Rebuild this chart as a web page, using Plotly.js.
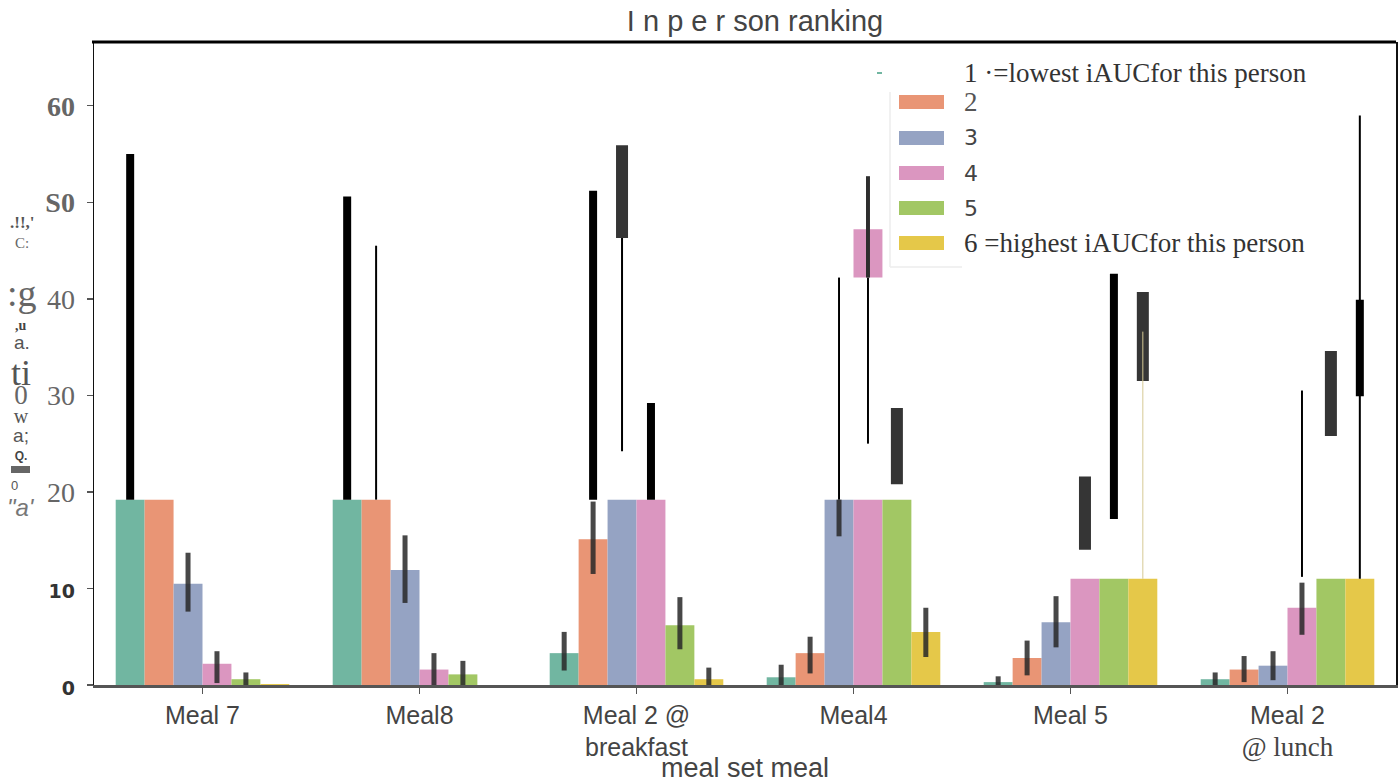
<!DOCTYPE html>
<html><head><meta charset="utf-8">
<script src="https://cdn.plot.ly/plotly-3.0.1.min.js"></script>
<style>html,body{margin:0;padding:0;background:#fff;}</style>
</head><body>
<div id="chart" style="width:1398px;height:783px;"></div>
<script>
// ---------------- data ----------------
const categories = ['Meal 7', 'Meal8', 'Meal 2 @ breakfast', 'Meal4', 'Meal 5', 'Meal 2 @ lunch'];
const tickLabels = ['Meal 7', 'Meal8', 'Meal 2 @<br>breakfast', 'Meal4', 'Meal 5',
  'Meal 2<br><span style="font-family:\'Liberation Serif\';font-size:27px">@ lunch</span>'];
const rankNames = ['1', '2', '3', '4', '5', '6'];
const legendLabels = ['1 ·=lowest iAUCfor this person', '2', '3', '4', '5', '6 =highest iAUCfor this person'];

// visible bar heights per rank (one value per meal)
const rank1Mean = [19.2, 19.2, 3.3, 0.8, 0.3, 0.6];
const rank2Mean = [19.2, 19.2, 15.1, 3.3, 2.8, 1.6];
const rank3Mean = [10.5, 11.9, 19.2, 19.2, 6.5, 2.0];
const rank4Mean = [2.2, 1.6, 19.2, 19.2, 11.0, 8.0];
const rank5Mean = [0.6, 1.1, 6.2, 19.2, 11.0, 11.0];
const rank6Mean = [0.1, 0.0, 0.6, 5.5, 11.0, 11.0];
// error bar ends drawn on the bars
const rank1Low  = [19.2, 19.2, 1.5, 0.0, 0.0, 0.0];
const rank1High = [19.2, 19.2, 5.5, 2.1, 0.9, 1.3];
const rank2Low  = [19.2, 19.2, 11.5, 1.2, 1.0, 0.3];
const rank2High = [19.2, 19.2, 19.0, 5.0, 4.6, 3.0];
const rank3Low  = [7.6, 8.5, 19.2, 15.4, 3.9, 0.5];
const rank3High = [13.7, 15.5, 19.2, 19.2, 9.2, 3.5];
const rank4Low  = [0.2, 0.0, 19.2, 19.2, 11.0, 5.2];
const rank4High = [3.5, 3.3, 19.2, 19.2, 11.0, 10.6];
const rank5Low  = [0.0, 0.0, 3.7, 19.2, 11.0, 11.0];
const rank5High = [1.3, 2.5, 9.1, 19.2, 11.0, 11.0];
const rank6Low  = [0.1, 0.0, 0.0, 2.9, 11.0, 11.0];
const rank6High = [0.1, 0.0, 1.8, 8.0, 11.0, 11.0];

// loose upper error segments (meal index, rank, low, high, kind)
const segMeal  = [0, 1, 1, 2, 2, 2, 2, 3, 3, 3, 3, 4, 4, 4, 4, 5, 5, 5, 5];
const segRank  = [1, 1, 2, 2, 3, 3, 4, 3, 4, 4, 5, 4, 5, 6, 6, 4, 5, 6, 6];
const segLow   = [19.2, 19.2, 19.2, 19.2, 46.3, 24.2, 19.2, 19.2, 42.2, 25.0, 20.8, 14.0, 17.2, 31.5, 11.0, 11.2, 25.8, 29.9, 11.0];
const segHigh  = [55.0, 50.6, 45.5, 51.2, 55.9, 51.2, 29.2, 42.2, 52.7, 42.2, 28.7, 21.6, 42.6, 40.7, 36.6, 30.5, 34.6, 39.9, 59.0];
const segKind  = ['thick', 'thick', 'thin', 'thick', 'block', 'thin', 'thick', 'thin', 'dark', 'thin', 'block', 'block', 'thick', 'block', 'tan', 'thin', 'block', 'thick', 'thin'];

// floating bar piece
const floatMeal = [3];
const floatRank = [4];
const floatLow  = [42.2];
const floatHigh = [47.2];

const yTickVals = [0, 10, 20, 30, 40, 50, 60];
const yTickText = [
  '<b><span style="font-family:\'DejaVu Sans\';font-size:19px;color:#333">0</span></b>',
  '<b><span style="font-family:\'DejaVu Sans\';font-size:19px;color:#333">10</span></b>',
  '<span style="font-weight:normal">20</span>',
  '<span style="font-weight:normal">30</span>',
  '<span style="font-weight:normal">40</span>',
  '<b>S0</b>', '<b>60</b>'];

const yTitleBits = [".!!,'", 'C:', ':g', ',u', 'a.', 'ti', '0', 'w', 'a;', 'Q.', '0', '"a\''];

// ---------------- styles ----------------
const colors = ['#71b6a1', '#e99575', '#95a3c3', '#db96c0', '#a2c764', '#e5c849'];
const kindStyle = {
  thick: {w: 8, c: '#000000'},
  thin:  {w: 2, c: '#000000'},
  block: {w: 12, c: '#353535'},
  dark:  {w: 4, c: '#2e2e2e'},
  tan:   {w: 1, c: '#d6c994'}
};
const W = 1398, H = 783, ML = 94, MR = 2, MT = 42, MB = 98;
const PW = W - ML - MR, PH = H - MT - MB;
const px = v => (v - ML) / PW;
const py = v => (H - MB - v) / PH;

const means = [rank1Mean, rank2Mean, rank3Mean, rank4Mean, rank5Mean, rank6Mean];
const lows = [rank1Low, rank2Low, rank3Low, rank4Low, rank5Low, rank6Low];
const highs = [rank1High, rank2High, rank3High, rank4High, rank5High, rank6High];

const traces = [];
rankNames.forEach((r, k) => {
  traces.push({
    type: 'bar', name: legendLabels[k], x: categories, y: means[k],
    offsetgroup: r, alignmentgroup: 'a',
    marker: {color: colors[k], line: {width: 0}},
    error_y: {type: 'data', symmetric: false,
      array: highs[k].map((h, i) => h - means[k][i]),
      arrayminus: lows[k].map((l, i) => means[k][i] - l),
      thickness: 5, width: 0, color: 'rgba(40,40,40,0.85)'},
    hoverinfo: 'skip', showlegend: false
  });
});

// floating piece
floatMeal.forEach((m, i) => {
  traces.push({
    type: 'bar', x: [categories[m]], y: [floatHigh[i] - floatLow[i]], base: [floatLow[i]],
    offsetgroup: String(floatRank[i]), alignmentgroup: 'a',
    marker: {color: colors[floatRank[i] - 1], line: {width: 0}},
    hoverinfo: 'skip', showlegend: false
  });
});

// loose segments, one transparent carrier trace per (kind, rank)
Object.keys(kindStyle).forEach(kind => {
  rankNames.forEach((r, k) => {
    const idx = [];
    segKind.forEach((s, i) => { if (s === kind && segRank[i] === k + 1) idx.push(i); });
    if (!idx.length) return;
    traces.push({
      type: 'bar', x: idx.map(i => categories[segMeal[i]]), y: idx.map(i => segLow[i]),
      offsetgroup: r, alignmentgroup: 'a',
      marker: {color: 'rgba(0,0,0,0)', line: {width: 0}},
      error_y: {type: 'data', symmetric: false,
        array: idx.map(i => segHigh[i] - segLow[i]),
        arrayminus: idx.map(() => 0),
        thickness: kindStyle[kind].w, width: 0, color: kindStyle[kind].c},
      hoverinfo: 'skip', showlegend: false
    });
  });
});

// ---------------- legend (drawn) ----------------
const shapes = [
  {type: 'line', xref: 'paper', yref: 'paper', x0: px(92), x1: 1, y0: 1, y1: 1, line: {color: '#000', width: 3}},
  {type: 'line', xref: 'paper', yref: 'paper', x0: px(890), x1: px(890), y0: py(92), y1: py(267), line: {color: '#ececec', width: 1.5}},
  {type: 'line', xref: 'paper', yref: 'paper', x0: px(890), x1: px(962), y0: py(267), y1: py(267), line: {color: '#ececec', width: 1.5}},
  {type: 'rect', xref: 'paper', yref: 'paper', x0: px(11), x1: px(30), y0: py(473), y1: py(466), line: {width: 0}, fillcolor: '#666'}
];
const legendY = [73, 102, 138, 173, 208, 243];
const annotations = [];
rankNames.forEach((r, k) => {
  if (k === 0) {
    shapes.push({type: 'rect', xref: 'paper', yref: 'paper', x0: px(877), x1: px(882), y0: py(74), y1: py(72), line: {width: 0}, fillcolor: colors[0]});
  } else {
    shapes.push({type: 'rect', xref: 'paper', yref: 'paper', x0: px(899), x1: px(944), y0: py(legendY[k] + 7), y1: py(legendY[k] - 7), line: {width: 0}, fillcolor: colors[k]});
  }
  const sans = (k >= 2 && k <= 4);
  annotations.push({
    xref: 'paper', yref: 'paper', x: px(962), y: py(legendY[k]), xanchor: 'left', yanchor: 'middle',
    text: legendLabels[k], showarrow: false,
    font: sans ? {family: 'DejaVu Sans', size: 22, color: '#444'} : {family: 'Liberation Serif', size: 27, color: k === 1 ? '#555' : '#333'}
  });
});

// garbled y-axis title pieces
const bitStyle = [
  {x: 22, y: 222, f: 'Liberation Serif', s: 17, b: true, c: '#555'},
  {x: 22, y: 243, f: 'Liberation Serif', s: 15, c: '#666'},
  {x: 22, y: 293, f: 'Liberation Serif', s: 38, c: '#666'},
  {x: 21, y: 326, f: 'Liberation Serif', s: 14, b: true, c: '#444'},
  {x: 22, y: 342, f: 'Liberation Sans', s: 19, c: '#555'},
  {x: 21, f: 'Liberation Serif', s: 36, c: '#555'},
  {x: 17, f: 'Liberation Serif', s: 27, c: '#666'},
  {x: 22, f: 'Liberation Serif', s: 20, c: '#555'},
  {x: 21, f: 'Liberation Sans', s: 19, c: '#555'},
  {x: 20, f: 'Liberation Sans', s: 12, b: true, c: '#444'},
  {x: 14, y: 485, f: 'Liberation Sans', s: 13, c: '#555'},
  {x: 21, y: 507, f: 'Liberation Sans', s: 24, c: '#777', it: true}
];
function styled(t, st) {
  let txt = t;
  if (st.b) txt = '<b>' + txt + '</b>';
  if (st.it) txt = '<i>' + txt + '</i>';
  return txt;
}
// stacked pieces 5..9 go in one block so the stack keeps its rhythm
const stackIdx = [5, 6, 7, 8, 9];
yTitleBits.forEach((t, i) => {
  if (stackIdx.indexOf(i) >= 0) return;
  const st = bitStyle[i];
  annotations.push({xref: 'paper', yref: 'paper', x: px(st.x), y: py(st.y), xanchor: 'center', yanchor: 'middle',
    text: styled(t, st), showarrow: false, font: {family: st.f, size: st.s, color: st.c}});
});
annotations.push({
  xref: 'paper', yref: 'paper', x: px(21), y: py(408), xanchor: 'center', yanchor: 'middle', align: 'center',
  showarrow: false, font: {family: 'Liberation Serif', size: 14.5, color: '#555'},
  text: stackIdx.map(i => {
    const st = bitStyle[i];
    return '<span style="font-family:\'' + st.f + '\';font-size:' + st.s + 'px;color:' + st.c + '">' + styled(yTitleBits[i], st) + '</span>';
  }).join('<br>')
});

const layout = {
  width: W, height: H,
  margin: {l: ML, r: MR, t: MT, b: MB, pad: 0},
  paper_bgcolor: '#ffffff', plot_bgcolor: '#ffffff',
  barmode: 'group', bargap: 0.2, bargroupgap: 0,
  showlegend: false, hovermode: false,
  title: {text: 'I n p e r son ranking', xref: 'container', yref: 'container',
    x: 755 / W, xanchor: 'center', y: 1 - 21 / H, yanchor: 'middle',
    font: {family: 'Liberation Sans', size: 29, color: '#444'}},
  xaxis: {
    type: 'category', categoryorder: 'array', categoryarray: categories,
    tickmode: 'array', tickvals: categories, ticktext: tickLabels,
    range: [-0.5, 5.5], showgrid: false, zeroline: false,
    showline: true, linecolor: '#555', linewidth: 2.5,
    ticks: 'outside', ticklen: 6, tickwidth: 1.5, tickcolor: '#555',
    tickfont: {family: 'Liberation Sans', size: 25, color: '#444'},
    title: {text: 'meal set meal', standoff: 10, font: {family: 'Liberation Sans', size: 27, color: '#444'}},
    automargin: false, fixedrange: true
  },
  yaxis: {
    range: [0, 66.6], tickmode: 'array', tickvals: yTickVals, ticktext: yTickText,
    showgrid: false, zeroline: false,
    showline: true, linecolor: '#111', linewidth: 1.5, mirror: true,
    ticks: 'outside', ticklen: 6, tickwidth: 1.5, tickcolor: '#555',
    ticklabelstandoff: 6,
    tickfont: {family: 'Liberation Serif', size: 28, color: '#666'},
    automargin: false, fixedrange: true
  },
  shapes: shapes,
  annotations: annotations
};

Plotly.newPlot('chart', traces, layout, {staticPlot: true, displayModeBar: false});
</script>
</body></html>
